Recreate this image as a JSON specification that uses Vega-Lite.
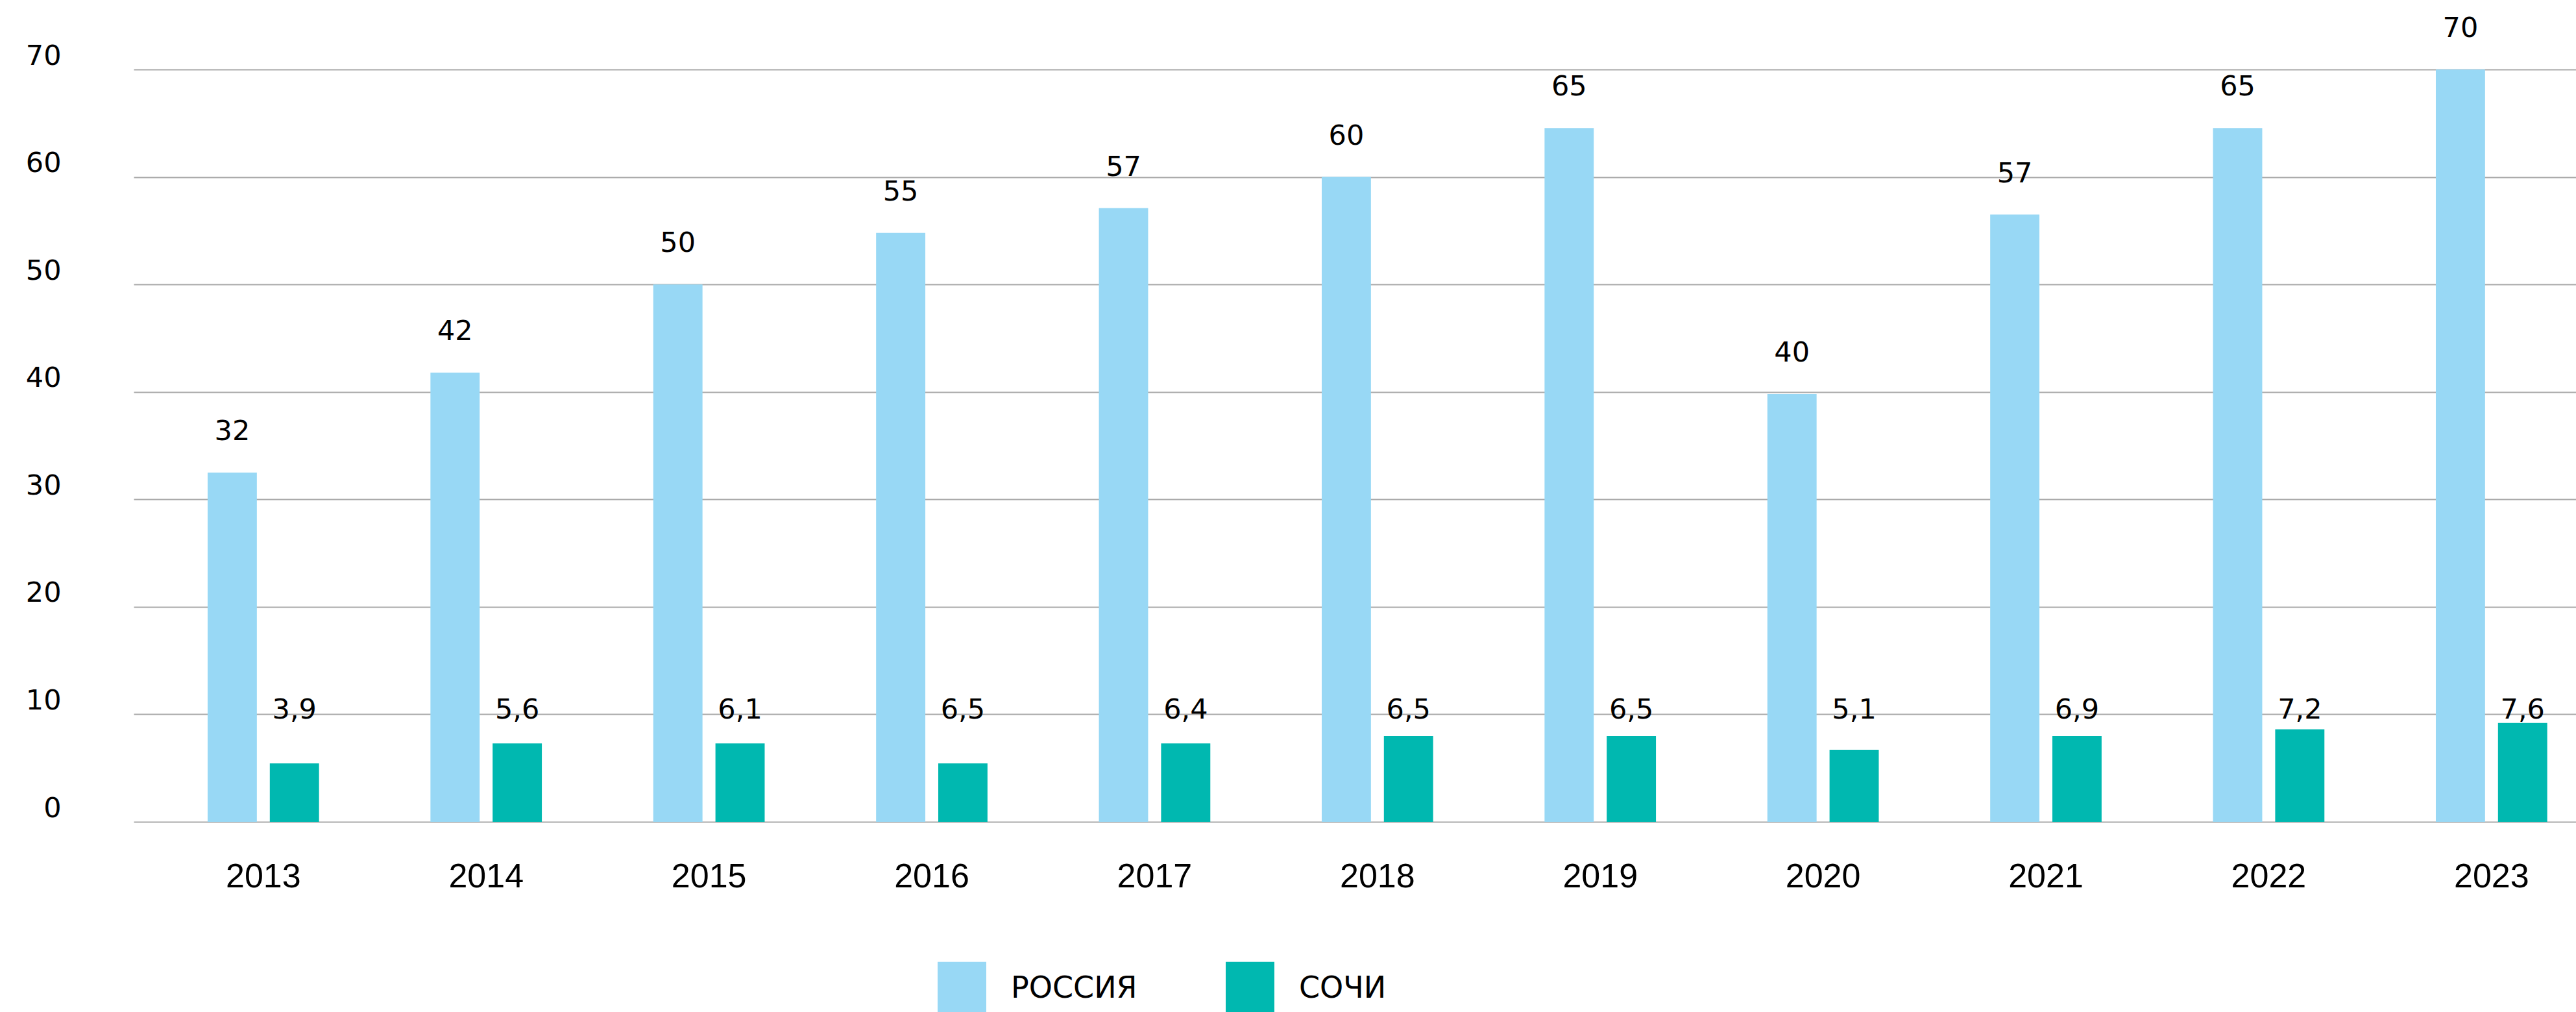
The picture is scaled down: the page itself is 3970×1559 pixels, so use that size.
{
  "$schema": "https://vega.github.io/schema/vega-lite/v6.json",
  "width": 3764,
  "height": 1159,
  "autosize": {"type": "none"},
  "padding": {"left": 206, "top": 107, "right": 0, "bottom": 293},
  "background": "white",
  "config": {"view": {"stroke": null}},
  "data": {
    "values": [
      {"year": "2013", "series": "РОССИЯ", "value": 32.5, "label": "32"},
      {"year": "2013", "series": "СОЧИ", "value": 5.43, "label": "3,9"},
      {"year": "2014", "series": "РОССИЯ", "value": 41.8, "label": "42"},
      {"year": "2014", "series": "СОЧИ", "value": 7.3, "label": "5,6"},
      {"year": "2015", "series": "РОССИЯ", "value": 50.0, "label": "50"},
      {"year": "2015", "series": "СОЧИ", "value": 7.3, "label": "6,1"},
      {"year": "2016", "series": "РОССИЯ", "value": 54.8, "label": "55"},
      {"year": "2016", "series": "СОЧИ", "value": 5.43, "label": "6,5"},
      {"year": "2017", "series": "РОССИЯ", "value": 57.1, "label": "57"},
      {"year": "2017", "series": "СОЧИ", "value": 7.3, "label": "6,4"},
      {"year": "2018", "series": "РОССИЯ", "value": 60.0, "label": "60"},
      {"year": "2018", "series": "СОЧИ", "value": 7.97, "label": "6,5"},
      {"year": "2019", "series": "РОССИЯ", "value": 64.55, "label": "65"},
      {"year": "2019", "series": "СОЧИ", "value": 7.97, "label": "6,5"},
      {"year": "2020", "series": "РОССИЯ", "value": 39.8, "label": "40"},
      {"year": "2020", "series": "СОЧИ", "value": 6.7, "label": "5,1"},
      {"year": "2021", "series": "РОССИЯ", "value": 56.5, "label": "57"},
      {"year": "2021", "series": "СОЧИ", "value": 7.97, "label": "6,9"},
      {"year": "2022", "series": "РОССИЯ", "value": 64.55, "label": "65"},
      {"year": "2022", "series": "СОЧИ", "value": 8.6, "label": "7,2"},
      {"year": "2023", "series": "РОССИЯ", "value": 70.0, "label": "70"},
      {"year": "2023", "series": "СОЧИ", "value": 9.2, "label": "7,6"}
    ]
  },
  "encoding": {
    "x": {
      "field": "year",
      "type": "nominal",
      "title": null,
      "scale": {"type": "band", "paddingInner": 0.5, "paddingOuter": 0.2305, "align": 0.72},
      "axis": {
        "labelAngle": 0,
        "labelFont": "Liberation Sans",
        "labelFontSize": 52,
        "labelColor": "#000000",
        "labelBaseline": "alphabetic",
        "labelPadding": 100,
        "ticks": false,
        "tickSize": 0,
        "domain": false,
        "grid": false
      }
    },
    "xOffset": {
      "field": "series",
      "type": "nominal",
      "sort": ["РОССИЯ", "СОЧИ"],
      "scale": {"paddingInner": 0.2083, "paddingOuter": 0}
    }
  },
  "layer": [
    {
      "mark": {"type": "bar"},
      "encoding": {
        "y": {
          "field": "value",
          "type": "quantitative",
          "title": null,
          "scale": {"domain": [0, 70], "nice": false, "zero": true},
          "axis": {
            "values": [0, 10, 20, 30, 40, 50, 60, 70],
            "grid": true,
            "gridColor": "#aaaaaa",
            "gridWidth": 2,
            "domain": false,
            "ticks": false,
            "tickSize": 0,
            "labelFont": "DejaVu Sans",
            "labelFontSize": 43,
            "labelColor": "#000000",
            "labelBaseline": "alphabetic",
            "labelOffset": -8,
            "labelPadding": 112
          }
        },
        "color": {
          "field": "series",
          "type": "nominal",
          "sort": ["РОССИЯ", "СОЧИ"],
          "scale": {"domain": ["РОССИЯ", "СОЧИ"], "range": ["#98d8f5", "#00b8b0"]},
          "legend": {
            "title": null,
            "orient": "none",
            "legendX": 1239,
            "legendY": 1378,
            "direction": "horizontal",
            "columns": 2,
            "columnPadding": 136,
            "padding": 0,
            "symbolType": "M-1,-1.094H1V1.094H-1Z",
            "symbolSize": 5625,
            "symbolStrokeWidth": 0,
            "symbolOpacity": 1,
            "labelOffset": 38,
            "labelFont": "DejaVu Sans",
            "labelFontSize": 46,
            "labelColor": "#000000",
            "labelLimit": 0
          }
        }
      }
    },
    {
      "transform": [{"filter": "datum.series === 'РОССИЯ'"}],
      "mark": {"type": "text", "font": "DejaVu Sans", "fontSize": 43, "color": "#000000", "align": "center", "baseline": "alphabetic", "dy": -50},
      "encoding": {
        "y": {"field": "value", "type": "quantitative"},
        "text": {"field": "label", "type": "nominal"}
      }
    },
    {
      "transform": [{"filter": "datum.series === 'СОЧИ'"}],
      "mark": {"type": "text", "font": "DejaVu Sans", "fontSize": 43, "color": "#000000", "align": "center", "baseline": "alphabetic"},
      "encoding": {
        "y": {"datum": 9.6, "type": "quantitative"},
        "text": {"field": "label", "type": "nominal"}
      }
    }
  ]
}
